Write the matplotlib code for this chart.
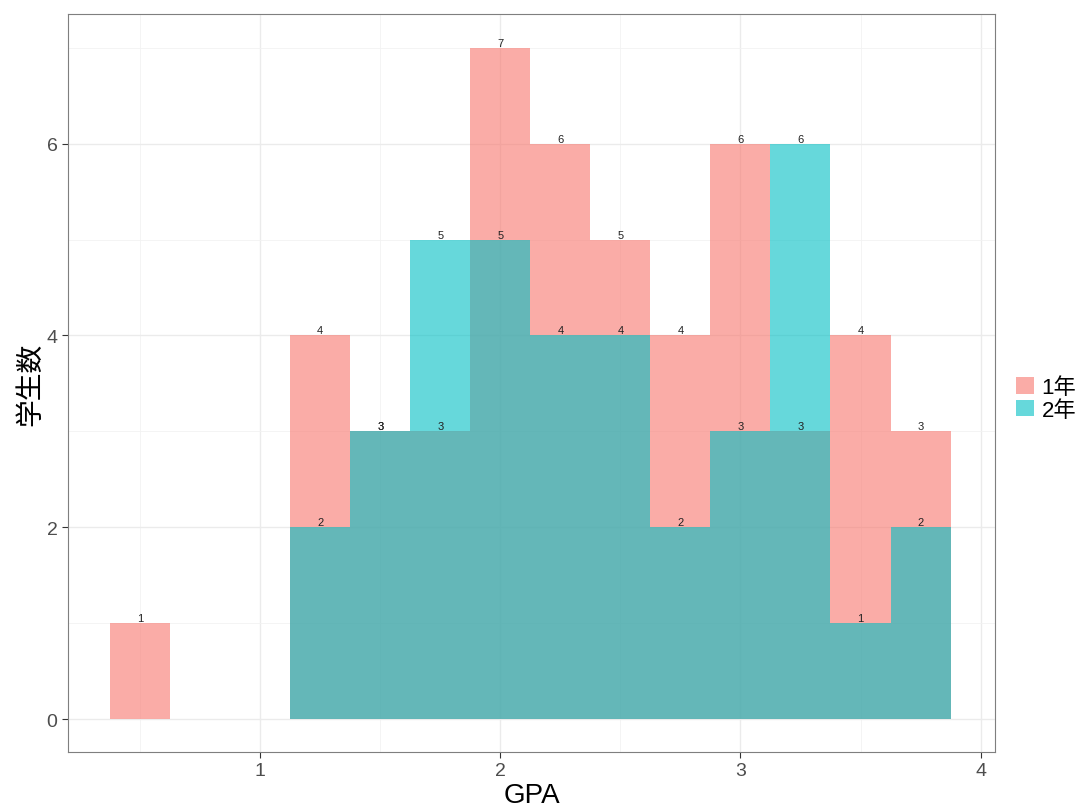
import matplotlib
matplotlib.use('Agg')
import matplotlib.pyplot as plt
from matplotlib.patches import Patch

plt.rcParams['font.family'] = ['Liberation Sans', 'Noto Sans CJK JP', 'DejaVu Sans']

# histogram bins (centres, width 0.25) and counts per year
bin_centers = [0.5, 0.75, 1.0, 1.25, 1.5, 1.75, 2.0, 2.25, 2.5, 2.75, 3.0, 3.25, 3.5, 3.75]
year1_counts = [1, 0, 0, 4, 3, 3, 7, 6, 5, 4, 6, 3, 4, 3]
year2_counts = [0, 0, 0, 2, 3, 5, 5, 4, 4, 2, 3, 6, 1, 2]
groups = ['1年', '2年']
colors = ['#F8766D', '#00BFC4']
x_ticks = [1, 2, 3, 4]
y_ticks = [0, 2, 4, 6]

fig = plt.figure(figsize=(10.82, 8.12), dpi=100)
ax = fig.add_axes([68 / 1082, 59 / 812, 927 / 1082, 738 / 812])

for counts, c in zip([year1_counts, year2_counts], colors):
    ax.bar(bin_centers, counts, width=0.25, color=c, alpha=0.6, linewidth=0, zorder=2)

# count labels above each non-empty bar
for counts in [year1_counts, year2_counts]:
    for x, n in zip(bin_centers, counts):
        if n > 0:
            ax.text(x, n, str(n), ha='center', va='bottom', fontsize=8, color='#222222', zorder=3)

ax.set_xlim(0.2, 4.06)
ax.set_ylim(-0.34, 7.35)
ax.set_xticks(x_ticks)
ax.set_yticks(y_ticks)
ax.set_xticks([0.5, 1.5, 2.5, 3.5], minor=True)
ax.set_yticks([1, 3, 5, 7], minor=True)
ax.tick_params(which='major', labelsize=14, labelcolor='#4D4D4D', color='#333333', length=4, width=0.8)
ax.tick_params(which='minor', length=0)
ax.grid(which='major', color='#EBEBEB', linewidth=1.0, zorder=0)
ax.grid(which='minor', color='#F2F2F2', linewidth=0.6, zorder=0)
ax.set_axisbelow(True)
for s in ax.spines.values():
    s.set_color('#7F7F7F')
    s.set_linewidth(0.8)

ax.set_xlabel('GPA', fontsize=20, labelpad=2)
ax.set_ylabel('学生数', fontsize=20, labelpad=2)

handles = [Patch(facecolor=c, alpha=0.6, edgecolor='none') for c in colors]
fig.legend(handles, groups, loc='center left', bbox_to_anchor=(1012 / 1082, 1 - 400 / 812),
           frameon=False, fontsize=16, handlelength=0.78, handleheight=0.78,
           handletextpad=0.35, labelspacing=0.05, borderpad=0.0, borderaxespad=0.2)

fig.savefig('out.png', dpi=100)
